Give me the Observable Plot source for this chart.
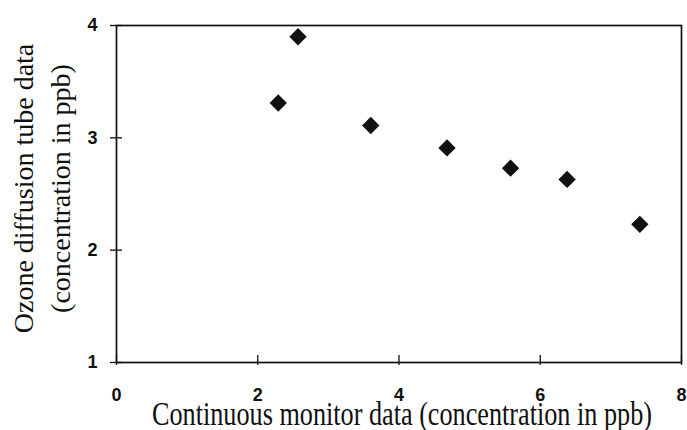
<!DOCTYPE html>
<html>
<head>
<meta charset="utf-8">
<script src="https://cdn.jsdelivr.net/npm/d3@7"></script>
<script src="https://cdn.jsdelivr.net/npm/@observablehq/plot@0.6"></script>
<style>
  html, body { margin: 0; padding: 0; background: #fff; }
  #chart svg { display: block; }
</style>
</head>
<body>
<div id="chart"></div>
<script>
// Continuous monitor data (ppb)
const monitor = [2.29, 2.57, 3.60, 4.68, 5.58, 6.38, 7.41];
// Ozone diffusion tube data (ppb)
const tube = [3.31, 3.90, 3.11, 2.91, 2.73, 2.63, 2.23];
const xTicks = [0, 2, 4, 6, 8];
const yTicks = [1, 2, 3, 4];
const xTitle = "Continuous monitor data (concentration in ppb)";
const yTitle = "Ozone diffusion tube data\n(concentration in ppb)";

const data = monitor.map((x, i) => ({x, y: tube[i]}));

const chart = Plot.plot({
  width: 687,
  height: 430,
  marginLeft: 116,
  marginRight: 6,
  marginTop: 25,
  marginBottom: 68,
  style: {background: "#fff", color: "#111", fontFamily: "Liberation Sans, Arial, sans-serif", fontSize: "18px", fontWeight: "bold"},
  x: {domain: [0, 8], ticks: xTicks, tickFormat: d => String(d)},
  y: {domain: [1, 4], ticks: yTicks, tickFormat: d => String(d)},
  marks: [
    Plot.frame({stroke: "#111", strokeWidth: 1.7}),
    // crossing ticks
    Plot.axisX(xTicks, {tickSize: 10, dy: -7, text: null, stroke: "#111", strokeWidth: 1.3, label: null}),
    Plot.axisY(yTicks, {tickSize: 12, dx: 6, text: null, stroke: "#111", strokeWidth: 1.3, label: null}),
    // tick labels
    Plot.axisX(xTicks, {tickSize: 0, tickPadding: 26, label: null, tickFormat: d => String(d), fill: "#111"}),
    Plot.axisY(yTicks, {tickSize: 0, tickPadding: 19, label: null, tickFormat: d => String(d), fill: "#111"}),
    Plot.dot(data, {x: "x", y: "y", symbol: "diamond2", r: 7.8, fill: "#111", stroke: "none"}),
    Plot.text([xTitle], {frameAnchor: "bottom", textAnchor: "middle", lineAnchor: "bottom", dx: 3, dy: 62, fontFamily: "Liberation Serif, Times New Roman, serif", fontWeight: "normal", fontSize: 33, fill: "#111"}),
    Plot.text([yTitle], {frameAnchor: "left", textAnchor: "middle", rotate: -90, lineAnchor: "middle", lineHeight: 1.32, dx: -77, dy: -5.5, fontFamily: "Liberation Serif, Times New Roman, serif", fontWeight: "normal", fontSize: 28, fill: "#111"})
  ]
});

chart.querySelectorAll("text").forEach(t => {
  if (t.textContent === xTitle) {
    t.setAttribute("textLength", 500);
    t.setAttribute("lengthAdjust", "spacingAndGlyphs");
  }
});

document.getElementById("chart").appendChild(chart);
</script>
</body>
</html>
